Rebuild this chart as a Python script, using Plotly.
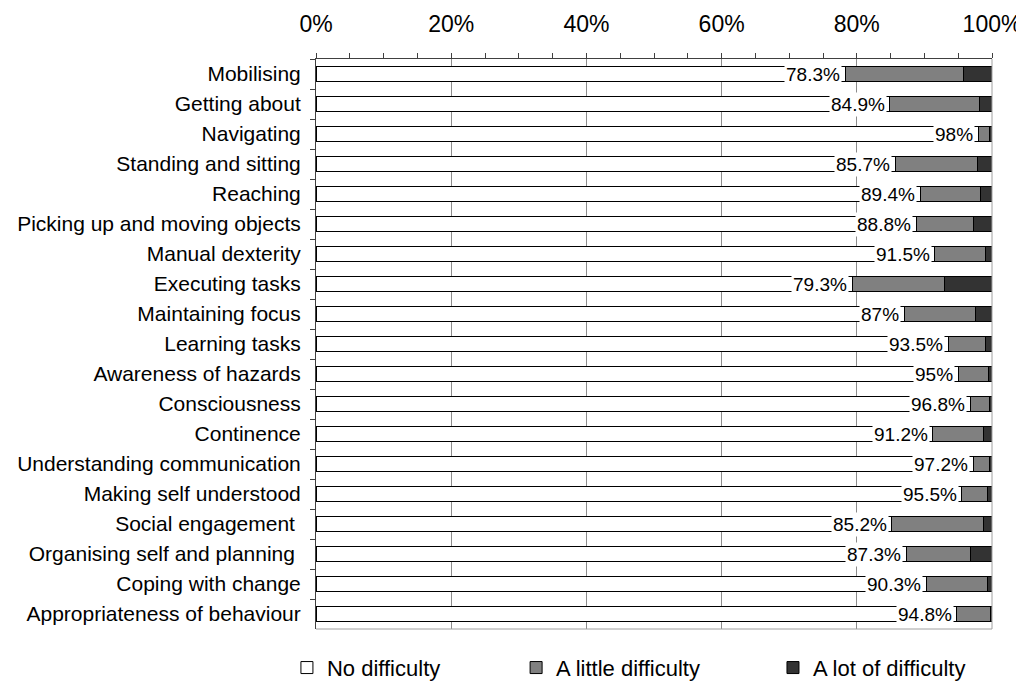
import plotly.graph_objects as go

categories = [
    "Mobilising", "Getting about", "Navigating", "Standing and sitting", "Reaching",
    "Picking up and moving objects", "Manual dexterity", "Executing tasks",
    "Maintaining focus", "Learning tasks", "Awareness of hazards", "Consciousness",
    "Continence", "Understanding communication", "Making self understood",
    "Social engagement ", "Organising self and planning ", "Coping with change",
    "Appropriateness of behaviour",
]
no_difficulty = [78.3, 84.9, 98, 85.7, 89.4, 88.8, 91.5, 79.3, 87, 93.5, 95, 96.8,
                 91.2, 97.2, 95.5, 85.2, 87.3, 90.3, 94.8]
a_lot = [4.2, 1.9, 0.3, 2.1, 1.7, 2.7, 0.9, 7.0, 2.4, 0.9, 0.5, 0.4,
         1.3, 0.4, 0.7, 1.3, 3.2, 0.7, 0.2]
a_little = [round(100 - n - l, 1) for n, l in zip(no_difficulty, a_lot)]

series_names = ["No difficulty", "A little difficulty", "A lot of difficulty"]
series_colors = ["#ffffff", "#808080", "#333333"]
x_tick_vals = [0, 20, 40, 60, 80, 100]
x_tick_text = ["0%", "20%", "40%", "60%", "80%", "100%"]

FONT = "Liberation Sans, Arial, sans-serif"

fig = go.Figure()
for i, (name, vals, col) in enumerate(zip(series_names, [no_difficulty, a_little, a_lot], series_colors)):
    fig.add_trace(go.Bar(
        y=categories, x=vals, orientation="h", name=name,
        marker=dict(color=col, line=dict(color="#000000", width=1)),
        legend="legend" if i == 0 else f"legend{i+1}",
        showlegend=True,
        hoverinfo="x+y",
    ))

annotations = []
for c, v in zip(categories, no_difficulty):
    annotations.append(dict(
        x=v, y=c, xref="x", yref="y", text=f"{v:g}%", showarrow=False,
        xanchor="right", yanchor="middle", xshift=-3,
        font=dict(family=FONT, size=19, color="#000000"),
        bgcolor="#ffffff", borderpad=1,
    ))

legend_common = dict(orientation="h", yanchor="middle", xanchor="left",
                     font=dict(family=FONT, size=22, color="#000000"),
                     bgcolor="rgba(0,0,0,0)", itemwidth=30)

# the page body has an 8px margin, so the figure is sized/offset to compensate
fig.update_layout(
    width=1016, height=674,
    margin=dict(l=308, r=32, t=51, b=53, autoexpand=False),
    paper_bgcolor="#ffffff", plot_bgcolor="#ffffff",
    showlegend=True,
    barmode="stack", bargap=0.5,
    font=dict(family=FONT, size=21, color="#000000"),
    annotations=annotations,
    legend=dict(x=-0.043, y=-0.068, **legend_common),
    legend2=dict(x=0.296, y=-0.068, **legend_common),
    legend3=dict(x=0.676, y=-0.068, **legend_common),
    xaxis=dict(
        side="top", range=[0, 100], tickvals=x_tick_vals, ticktext=x_tick_text,
        showgrid=True, gridcolor="#8c8c8c", gridwidth=1,
        showline=True, linecolor="#404040", linewidth=1,
        ticks="outside", ticklen=5, tickcolor="#404040",
        minor=dict(dtick=5, ticks="outside", ticklen=5, tickcolor="#404040", showgrid=False),
        tickfont=dict(family=FONT, size=23, color="#000000"),
        ticklabelstandoff=12, zeroline=False, fixedrange=True,
    ),
    yaxis=dict(
        autorange="reversed", showline=True, linecolor="#404040", linewidth=1,
        ticks="outside", ticklen=5, tickcolor="#404040", tickson="boundaries",
        tickfont=dict(family=FONT, size=21, color="#000000"),
        ticklabelstandoff=10, showgrid=False,
    ),
    shapes=[
        dict(type="line", xref="paper", yref="paper", x0=1, x1=1, y0=0, y1=1,
             line=dict(color="#a0a0a0", width=1)),
        dict(type="line", xref="paper", yref="paper", x0=0, x1=1, y0=0, y1=0,
             line=dict(color="#a0a0a0", width=1)),
    ],
)

fig.write_html("out.html")
